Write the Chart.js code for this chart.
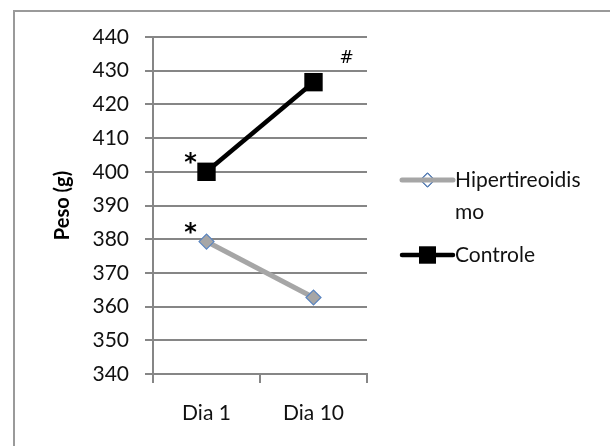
<!DOCTYPE html>
<html>
<head>
<meta charset="utf-8">
<script src="https://cdn.jsdelivr.net/npm/chart.js@4.4.0/dist/chart.umd.min.js"></script>
<style>
    body { margin: 0; background: #fff; }
    #wrap { position: relative; width: 610px; height: 446px; overflow: hidden; }
    #frame {
        position: absolute; left: 13px; top: 10px;
        width: 700px; height: 500px;
        border: 2px solid #9a9a9a;
    }
    #chart { position: absolute; left: 0; top: 0; }
</style>
</head>
<body>
<div id="wrap">
    <div id="frame"></div>
    <canvas id="chart" width="610" height="446"></canvas>
</div>
<script>
// Chart data
const days = ['Dia 1', 'Dia 10'];
const hiperValues = [379.3, 362.7];
const controleValues = [400, 426.6];
const yTicks = [340, 350, 360, 370, 380, 390, 400, 410, 420, 430, 440];

// significance marks: text, dataset index, point index
const markText = ['*', '*', '#'];
const markDataset = [1, 0, 1];
const markPoint = [0, 0, 1];

const FONT = 'Lato, "Open Sans", sans-serif';
const TEXT = '#111';

// draws the * and # marks next to the points
const marksPlugin = {
    id: 'marks',
    afterDatasetsDraw(chart) {
        const ctx = chart.ctx;
        ctx.save();
        ctx.textAlign = 'center';
        ctx.textBaseline = 'alphabetic';
        ctx.fillStyle = '#000';
        markText.forEach((t, i) => {
            const pt = chart.getDatasetMeta(markDataset[i]).data[markPoint[i]];
            if (t === '*') {
                ctx.font = 'bold 24px "DejaVu Sans"';
                ctx.fillText(t, pt.x - 16, pt.y - 2);
            } else {
                ctx.font = '17px "DejaVu Sans"';
                ctx.fillText(t, pt.x + 33, pt.y - 19);
            }
        });
        ctx.restore();
    }
};

// legend on the right, Excel style (line + marker, wrapped text)
const legendPlugin = {
    id: 'sideLegend',
    afterDraw(chart) {
        const ctx = chart.ctx;
        const x0 = 402, x1 = 453, tx = 455, maxW = 136, lineH = 32;
        let y = 180;
        ctx.save();
        ctx.font = '21px ' + FONT;
        ctx.textBaseline = 'middle';
        chart.data.datasets.forEach((ds) => {
            // wrap label by characters
            const lines = [];
            let cur = '';
            for (const ch of ds.label) {
                if (ctx.measureText(cur + ch).width > maxW && cur) {
                    lines.push(cur);
                    cur = ch;
                } else {
                    cur += ch;
                }
            }
            lines.push(cur);

            const mx = (x0 + x1) / 2;
            const hollow = ds.pointStyle === 'rectRot';
            const drawMarker = () => {
                Chart.helpers.drawPoint(ctx, {
                    pointStyle: ds.pointStyle,
                    radius: ds.legendRadius,
                    borderWidth: ds.pointBorderWidth
                }, mx, y);
                ctx.fillStyle = hollow ? '#fff' : ds.pointBackgroundColor;
                ctx.strokeStyle = ds.pointBorderColor;
                ctx.lineWidth = ds.pointBorderWidth;
                ctx.fill();
                if (ds.pointBorderWidth) ctx.stroke();
            };
            if (hollow) drawMarker();

            ctx.strokeStyle = ds.borderColor;
            ctx.lineWidth = ds.borderWidth;
            ctx.lineCap = 'round';
            ctx.beginPath();
            ctx.moveTo(x0, y);
            ctx.lineTo(x1, y);
            ctx.stroke();
            if (!hollow) drawMarker();

            ctx.fillStyle = TEXT;
            lines.forEach((l, k) => ctx.fillText(l, tx, y + k * lineH));
            y += lines.length * lineH + 11;
        });
        ctx.restore();
    }
};

new Chart(document.getElementById('chart'), {
    type: 'line',
    data: {
        labels: days,
        datasets: [
            {
                label: 'Hipertireoidismo',
                data: hiperValues,
                borderColor: '#a6a6a6',
                borderWidth: 5,
                pointStyle: 'rectRot',
                pointRadius: 7.5,
                legendRadius: 7,
                pointBackgroundColor: '#a6a6a6',
                pointBorderColor: '#5a85c0',
                pointBorderWidth: 1.2
            },
            {
                label: 'Controle',
                data: controleValues,
                borderColor: '#000000',
                borderWidth: 4.5,
                pointStyle: 'rect',
                pointRadius: 13,
                legendRadius: 12,
                pointBackgroundColor: '#000000',
                pointBorderColor: '#000000',
                pointBorderWidth: 0
            }
        ]
    },
    options: {
        responsive: false,
        animation: false,
        layout: { padding: { left: 0, top: 37, right: 243, bottom: 0 } },
        plugins: {
            legend: { display: false },
            tooltip: { enabled: false }
        },
        scales: {
            x: {
                offset: true,
                grid: {
                    offset: true,
                    drawOnChartArea: false,
                    drawTicks: true,
                    tickLength: 9,
                    color: '#868686',
                    lineWidth: 2
                },
                border: { color: '#868686', width: 2 },
                ticks: {
                    padding: 18,
                    color: TEXT,
                    font: { family: FONT, size: 21 }
                },
                afterFit(scale) { scale.height = 72; }
            },
            y: {
                min: 340,
                max: 440,
                afterBuildTicks(scale) {
                    scale.ticks = yTicks.map(v => ({ value: v }));
                },
                grid: {
                    color: '#868686',
                    lineWidth: 2,
                    tickLength: 8
                },
                border: { color: '#868686', width: 2 },
                ticks: {
                    padding: 16,
                    color: TEXT,
                    font: { family: FONT, size: 21 }
                },
                title: {
                    display: true,
                    text: 'Peso (g)',
                    color: '#000',
                    padding: { top: 51, bottom: 0 },
                    font: { family: FONT, size: 20, weight: 'bold' }
                },
                afterFit(scale) { scale.width = 153; }
            }
        }
    },
    plugins: [marksPlugin, legendPlugin]
});
</script>
</body>
</html>
